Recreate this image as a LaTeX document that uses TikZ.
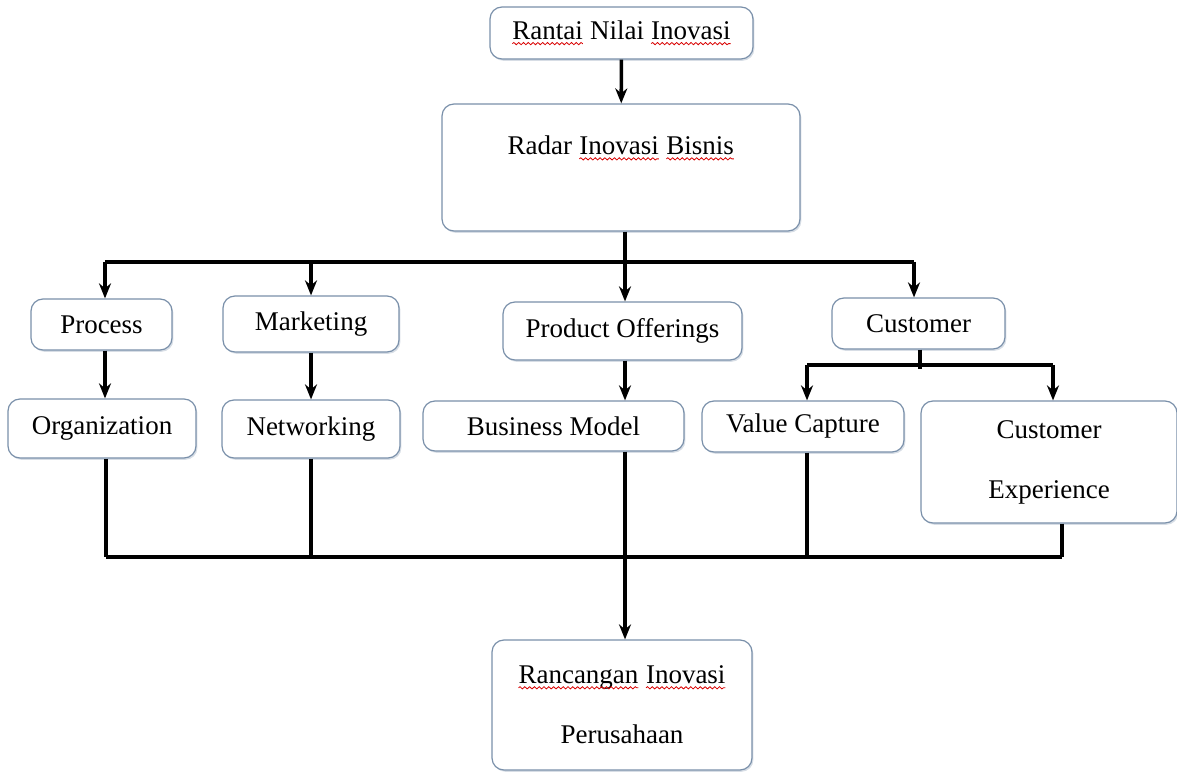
\documentclass[tikz,border=0pt]{standalone}
\usepackage{fontspec}
\setmainfont{Liberation Serif}
\usepackage{tikz}
\usetikzlibrary{arrows.meta,shadows,decorations.pathmorphing}
\definecolor{boxline}{RGB}{122,144,170}
\newcommand{\typo}[1]{\tikz[baseline=(t.base),x=1pt,y=1pt,sharp corners]{%
	\node[inner sep=0pt,outer sep=0pt,minimum width=0pt,minimum height=0pt,draw=none,fill=none] (t) {#1};%
	\draw[draw=red!85!black,line width=0.4pt,decorate,decoration={snake,amplitude=0.55pt,segment length=2.4pt}]
	([yshift=-2pt]t.base west) -- ([yshift=-2pt]t.base east);}}
\tikzset{
	box/.style={draw=boxline, line width=0.6pt, rounded corners=6pt, fill=white, align=center,
		inner sep=0pt, font=\fontsize{13.5}{16}\selectfont,
		drop shadow={shadow xshift=0.7pt, shadow yshift=-0.9pt, opacity=0.3, fill=boxline}},
	link/.style={line width=1.8pt},
}
\begin{document}
\begin{tikzpicture}[x=0.5pt,y=-0.5pt,>={Stealth[length=7.5pt,width=6pt]}]
\useasboundingbox (0,0) rectangle (1177,774);

\node[box,minimum width=131.5pt,minimum height=26pt] (rantai) at (621.5,33) {\typo{Rantai} Nilai \typo{Inovasi}};
\node[box,minimum width=179pt,minimum height=63.5pt] (radar) at (621,167.5) {Radar \typo{Inovasi} \typo{Bisnis}\\[6pt]~};

\node[box,minimum width=70.5pt,minimum height=25.5pt] (process) at (101.5,324.5) {Process};
\node[box,minimum width=88pt,minimum height=28pt] (marketing) at (311,324) {Marketing};
\node[box,minimum width=119.5pt,minimum height=29pt] (prodoff) at (622.5,331) {Product Offerings};
\node[box,minimum width=86.5pt,minimum height=25.5pt] (customer) at (918.5,323.5) {Customer};

\node[box,minimum width=94pt,minimum height=29.5pt] (organization) at (102,428.5) {Organization};
\node[box,minimum width=89pt,minimum height=29pt] (networking) at (311,429) {Networking};
\node[box,minimum width=130.5pt,minimum height=25pt] (bizmodel) at (553.5,426) {Business Model};
\node[box,minimum width=101pt,minimum height=25.5pt] (valuecap) at (803,426.5) {Value Capture};
\node[box,minimum width=128pt,minimum height=61pt] (custexp) at (1049,462) {Customer\\[14pt]Experience};

\node[box,minimum width=130pt,minimum height=65pt] (rancangan) at (622,705) {\typo{Rancangan} \typo{Inovasi}\\[14pt]Perusahaan};

\coordinate (tbL) at (105,262);
\coordinate (tbM) at (625,262);
\coordinate (tbR) at (914,262);
\coordinate (cbL) at (807,365);
\coordinate (cbR) at (1053,365);
\coordinate (bbL) at (106,557);
\coordinate (bbM) at (625,557);
\coordinate (bbR) at (1062,557);

\draw[link,->] (rantai) -- (radar);
\draw[link] (radar.south -| tbM) -- (tbM);
\draw[link] (tbL) -- (tbR);
\draw[link,->] (tbL) -- (tbL |- process.north);
\draw[link,->] (tbL -| marketing) -- (marketing.north);
\draw[link,->] (tbM) -- (tbM |- prodoff.north);
\draw[link,->] (tbR) -- (tbR |- customer.north);

\draw[link,->] (process.south -| tbL) -- (organization.north -| tbL);
\draw[link,->] (marketing) -- (networking);
\draw[link,->] (prodoff.south -| tbM) -- (bizmodel.north -| tbM);

\draw[link] (customer.south -| 920,0) -- (920,369);
\draw[link] (cbL) -- (cbR);
\draw[link,->] (cbL) -- (valuecap.north -| cbL);
\draw[link,->] (cbR) -- (custexp.north -| cbR);

\draw[link] (organization.south -| bbL) -- (bbL);
\draw[link] (networking.south) -- (bbL -| networking);
\draw[link] (bizmodel.south -| bbM) -- (bbM);
\draw[link] (valuecap.south -| cbL) -- (bbM -| cbL);
\draw[link] (custexp.south -| bbR) -- (bbR);
\draw[link] (bbL) -- (bbR);
\draw[link,->] (bbM) -- (rancangan.north -| bbM);
\end{tikzpicture}
\end{document}
